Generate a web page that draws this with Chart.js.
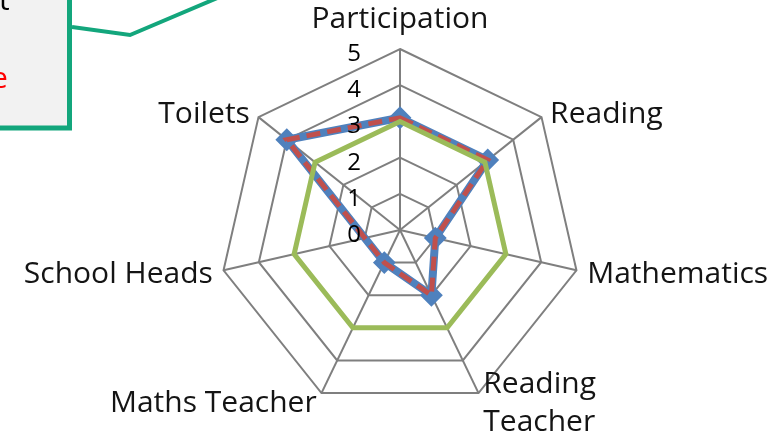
<!DOCTYPE html>
<html>
<head>
<meta charset="utf-8">
<script src="https://cdn.jsdelivr.net/npm/chart.js@4.4.1/dist/chart.umd.min.js"></script>
<style>
  html, body { margin: 0; padding: 0; background: #fff; }
  #wrap { width: 779px; height: 433px; position: relative; }
</style>
</head>
<body>
<div id="wrap"><canvas id="chart-radar"></canvas></div>
<script>
'use strict';

/* ── data ───────────────────────────────────────── */
const AXIS_LABELS = ['Participation', 'Reading', 'Mathematics', ['Reading', 'Teacher'], 'Maths Teacher', 'School Heads', 'Toilets'];
const TICK_VALUES = [0, 1, 2, 3, 4, 5];
// School Heads is blank in the source: the line spans over it
const SCORES_MARKED = [3.1, 3.1, 1.0, 2.0, 1.0, null, 4.0];
const SCORES_DASHED = [3.1, 3.1, 1.0, 2.0, 1.0, null, 4.0];
const SCORES_TARGET = [3, 3, 3, 3, 3, 3, 3];

const LABEL_FONT = "30px 'Open Sans', sans-serif";
const TICK_FONT = "24px 'Open Sans', sans-serif";
const TEXT_COLOR = '#141414';
const GRID_COLOR = '#7f7f7f';
const CALLOUT_GREEN = '#13a67c';

/* ── point labels, drawn beside each spoke end ─── */
const pointLabelPlugin = {
  id: 'pointLabelText',
  afterDraw(chart) {
    const scale = chart.scales.r;
    const { ctx } = chart;
    const R = scale.drawingArea;
    ctx.save();
    ctx.font = LABEL_FONT;
    ctx.fillStyle = TEXT_COLOR;
    ctx.textBaseline = 'alphabetic';
    chart.data.labels.forEach((label, i) => {
      const p = scale.getPointPosition(i, R);
      const dx = (p.x - scale.xCenter) / R;
      const dy = (p.y - scale.yCenter) / R;
      const lines = Array.isArray(label) ? label : [label];
      const lineH = 38;
      if (Math.abs(dx) < 0.05) {
        ctx.textAlign = 'center';
        ctx.fillText(lines[0], p.x, p.y - 21);
        return;
      }
      ctx.textAlign = dx > 0 ? 'left' : 'right';
      const x = p.x + 11 * dx;
      const mid = p.y + 9 * dy;
      const first = mid - (lines.length - 1) * lineH / 2 + 11;
      lines.forEach((ln, k) => ctx.fillText(ln, x, first + k * lineH));
    });
    ctx.restore();
  },
};

/* ── tick numbers, left of the vertical spoke ─── */
const tickTextPlugin = {
  id: 'tickText',
  afterDatasetsDraw(chart) {
    const scale = chart.scales.r;
    const { ctx } = chart;
    ctx.save();
    ctx.font = TICK_FONT;
    ctx.fillStyle = '#000000';
    ctx.textAlign = 'center';
    ctx.textBaseline = 'alphabetic';
    TICK_VALUES.forEach(v => {
      const d = scale.getDistanceFromCenterForValue(v);
      ctx.fillText(String(v), scale.xCenter - 46, scale.yCenter - d + 12);
    });
    ctx.restore();
  },
};

/* ── cut-off callout in the top-left corner ────── */
const calloutPlugin = {
  id: 'callout',
  afterDraw(chart) {
    const { ctx } = chart;
    ctx.save();
    ctx.fillStyle = '#f2f2f2';
    ctx.fillRect(-10, -10, 79.5, 138);
    ctx.strokeStyle = CALLOUT_GREEN;
    ctx.lineWidth = 5;
    ctx.strokeRect(-10, -10, 79.5, 138);
    ctx.lineWidth = 4;
    ctx.beginPath();
    ctx.moveTo(72, 27);
    ctx.lineTo(130, 35);
    ctx.lineTo(222, -4);
    ctx.stroke();
    ctx.font = LABEL_FONT;
    ctx.textAlign = 'left';
    ctx.textBaseline = 'alphabetic';
    ctx.fillStyle = '#000000';
    ctx.fillText('t', -1, 10);
    ctx.fillStyle = '#ff0000';
    ctx.fillText('e', -9, 88);
    ctx.restore();
  },
};

Chart.defaults.font.family = "'Open Sans', sans-serif";
Chart.defaults.animation = false;

new Chart(document.getElementById('chart-radar').getContext('2d'), {
  type: 'radar',
  data: {
    labels: AXIS_LABELS,
    datasets: [
      {
        label: 'Marked',
        data: SCORES_MARKED,
        borderColor: '#4f81bd',
        borderWidth: 8,
        pointStyle: 'rectRot',
        pointRadius: 10,
        pointBackgroundColor: '#4f81bd',
        pointBorderColor: '#4f81bd',
        pointBorderWidth: 2,
        spanGaps: true,
        fill: false,
        order: 3,
      },
      {
        label: 'Dashed',
        data: SCORES_DASHED,
        borderColor: '#c0504d',
        borderWidth: 5,
        borderDash: [14, 7],
        pointRadius: 0,
        spanGaps: true,
        fill: false,
        order: 2,
      },
      {
        label: 'Target',
        data: SCORES_TARGET,
        borderColor: '#9bbb59',
        borderWidth: 5,
        pointRadius: 0,
        fill: false,
        order: 1,
      },
    ],
  },
  options: {
    responsive: true,
    maintainAspectRatio: false,
    layout: { padding: { left: 219, right: 198, top: 49, bottom: 22 } },
    plugins: { legend: { display: false }, tooltip: { enabled: false } },
    elements: { line: { tension: 0 } },
    scales: {
      r: {
        min: 0,
        max: 5,
        ticks: { stepSize: 1, display: false },
        pointLabels: { display: false },
        grid: { color: GRID_COLOR, lineWidth: 2 },
        angleLines: { color: GRID_COLOR, lineWidth: 2 },
      },
    },
  },
  plugins: [tickTextPlugin, pointLabelPlugin, calloutPlugin],
});
</script>
</body>
</html>
